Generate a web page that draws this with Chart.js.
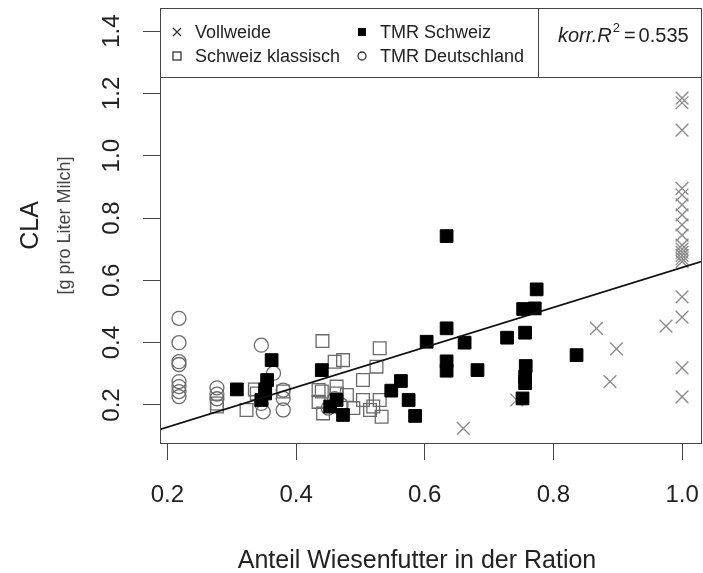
<!DOCTYPE html>
<html>
<head>
<meta charset="utf-8">
<script src="https://cdn.jsdelivr.net/npm/chart.js@4.4.1/dist/chart.umd.min.js"></script>
<style>
  html, body { margin: 0; padding: 0; background: #fff; }
</style>
</head>
<body>
<canvas id="graficaCLA" width="703" height="573"></canvas>
<script>
// Werte
const vollweideX = [1.0, 1.0, 1.0, 1.0, 1.0, 1.0, 1.0, 1.0, 1.0, 1.0, 1.0, 1.0, 1.0, 1.0, 1.0, 1.0, 1.0, 1.0, 1.0, 0.867, 0.898, 0.888, 0.975, 0.743, 0.66];
const vollweideY = [1.185, 1.17, 1.082, 0.895, 0.874, 0.842, 0.81, 0.778, 0.745, 0.713, 0.70, 0.69, 0.68, 0.67, 0.66, 0.547, 0.482, 0.319, 0.226, 0.446, 0.38, 0.275, 0.453, 0.216, 0.125];

const tmrSchweizX = [0.308, 0.346, 0.352, 0.352, 0.355, 0.362, 0.44, 0.453, 0.463, 0.473, 0.548, 0.563, 0.575, 0.585, 0.603, 0.634, 0.634, 0.634, 0.634, 0.662, 0.682, 0.728, 0.752, 0.756, 0.756, 0.757, 0.756, 0.753, 0.771, 0.774, 0.836];
const tmrSchweizY = [0.25, 0.216, 0.237, 0.25, 0.28, 0.344, 0.312, 0.195, 0.216, 0.168, 0.246, 0.277, 0.216, 0.165, 0.403, 0.742, 0.446, 0.34, 0.31, 0.40, 0.312, 0.416, 0.221, 0.27, 0.29, 0.325, 0.432, 0.508, 0.51, 0.571, 0.36];

const klassischX = [0.277, 0.277, 0.323, 0.339, 0.336, 0.38, 0.435, 0.435, 0.442, 0.441, 0.46, 0.473, 0.463, 0.479, 0.44, 0.489, 0.504, 0.504, 0.515, 0.52, 0.525, 0.53, 0.53, 0.533, 0.463];
const klassischY = [0.195, 0.205, 0.184, 0.237, 0.25, 0.243, 0.248, 0.21, 0.173, 0.405, 0.339, 0.344, 0.259, 0.232, 0.243, 0.19, 0.28, 0.216, 0.184, 0.195, 0.323, 0.382, 0.216, 0.162, 0.237];

const tmrDeutschlandX = [0.218, 0.218, 0.218, 0.218, 0.218, 0.218, 0.218, 0.218, 0.277, 0.277, 0.277, 0.346, 0.365, 0.38, 0.38, 0.38, 0.349, 0.346, 0.45, 0.47, 0.46];
const tmrDeutschlandY = [0.478, 0.40, 0.339, 0.33, 0.275, 0.259, 0.243, 0.227, 0.255, 0.235, 0.22, 0.392, 0.302, 0.248, 0.221, 0.184, 0.178, 0.205, 0.19, 0.2, 0.22];

// Regressionsgerade
const achsenabschnitt = 0.001;
const steigung = 0.64;
const korrR2 = '0.535';

const xTicks = [0.2, 0.4, 0.6, 0.8, 1.0];
const yTicks = [0.2, 0.4, 0.6, 0.8, 1.0, 1.2, 1.4];
const xMin = 0.1885, xMax = 1.031;
const yMin = 0.078, yMax = 1.474;

const schrift = 'Liberation Sans, Arial, sans-serif';

function punkte(xs, ys) {
    return xs.map((x, i) => ({ x: x, y: ys[i] }));
}

// Box, Achsentitel, y-Beschriftung, Legende und R2
const rahmenPlugin = {
    id: 'rahmen',
    afterDraw(chart) {
        const ctx = chart.ctx;
        const a = chart.chartArea;
        ctx.save();
        ctx.strokeStyle = '#444';
        ctx.lineWidth = 1;
        ctx.strokeRect(a.left + 0.5, a.top + 0.5, a.right - a.left - 1, a.bottom - a.top);

        // y Tick-Beschriftung (gedreht wie in R)
        const ys = chart.scales.y;
        ctx.fillStyle = '#222';
        ctx.font = '24px ' + schrift;
        ctx.textAlign = 'center';
        ctx.textBaseline = 'middle';
        ys.ticks.forEach(t => {
            ctx.save();
            ctx.translate(112, ys.getPixelForValue(t.value));
            ctx.rotate(-Math.PI / 2);
            ctx.fillText(t.value.toFixed(1), 0, 0);
            ctx.restore();
        });

        // x-Achsentitel
        ctx.font = '25px ' + schrift;
        ctx.fillText('Anteil Wiesenfutter in der Ration', 417, 561);

        // Untertitel y-Achse
        ctx.save();
        ctx.translate(65, (a.top + a.bottom) / 2);
        ctx.rotate(-Math.PI / 2);
        ctx.font = '18px ' + schrift;
        ctx.fillStyle = '#444';
        ctx.fillText('[g pro Liter Milch]', 0, 0);
        ctx.restore();

        // Legende
        ctx.strokeStyle = '#444';
        ctx.strokeRect(a.left + 0.5, a.top + 0.5, 378, 69);
        ctx.strokeRect(538.5, a.top + 0.5, a.right - 539, 69);

        const eintraege = [
            { label: 'Vollweide', x: 177, y: 32, typ: 'kreuz' },
            { label: 'TMR Schweiz', x: 362, y: 32, typ: 'voll' },
            { label: 'Schweiz klassisch', x: 177, y: 56, typ: 'quadrat' },
            { label: 'TMR Deutschland', x: 362, y: 56, typ: 'kreis' }
        ];
        ctx.font = '18px ' + schrift;
        ctx.textAlign = 'left';
        ctx.textBaseline = 'middle';
        eintraege.forEach(e => {
            ctx.lineWidth = 1.3;
            ctx.strokeStyle = '#333';
            ctx.fillStyle = '#000';
            const s = 4;
            if (e.typ === 'kreuz') {
                ctx.beginPath();
                ctx.moveTo(e.x - s, e.y - s); ctx.lineTo(e.x + s, e.y + s);
                ctx.moveTo(e.x - s, e.y + s); ctx.lineTo(e.x + s, e.y - s);
                ctx.stroke();
            } else if (e.typ === 'voll') {
                ctx.fillRect(e.x - s, e.y - s, 2 * s, 2 * s);
            } else if (e.typ === 'quadrat') {
                ctx.strokeRect(e.x - s, e.y - s, 2 * s, 2 * s);
            } else {
                ctx.beginPath();
                ctx.arc(e.x, e.y, s, 0, Math.PI * 2);
                ctx.stroke();
            }
            ctx.fillStyle = '#222';
            ctx.fillText(e.label, e.x + 18, e.y + 1);
        });

        // korr. R2
        ctx.textBaseline = 'alphabetic';
        ctx.fillStyle = '#222';
        let px = 558;
        ctx.font = 'italic 20px ' + schrift;
        ctx.fillText('korr.R', px, 42);
        px += ctx.measureText('korr.R').width + 1;
        ctx.font = '13px ' + schrift;
        ctx.fillText('2', px, 32);
        px += ctx.measureText('2').width + 4;
        ctx.font = '20px ' + schrift;
        ctx.fillText('=', px, 42);
        px += ctx.measureText('=').width + 3;
        ctx.fillText(korrR2, px, 42);
        ctx.restore();
    }
};

const ctxCLA = document.getElementById('graficaCLA').getContext('2d');
new Chart(ctxCLA, {
    type: 'scatter',
    data: {
        datasets: [
            {
                type: 'line',
                label: 'Regression',
                data: [
                    { x: xMin, y: achsenabschnitt + steigung * xMin },
                    { x: xMax, y: achsenabschnitt + steigung * xMax }
                ],
                borderColor: '#111',
                borderWidth: 1.6,
                pointRadius: 0,
                fill: false
            },
            {
                label: 'TMR Schweiz',
                data: punkte(tmrSchweizX, tmrSchweizY),
                pointStyle: 'rect',
                pointRadius: 9,
                backgroundColor: '#000',
                borderColor: '#000',
                borderWidth: 1
            },
            {
                label: 'Vollweide',
                data: punkte(vollweideX, vollweideY),
                pointStyle: 'crossRot',
                pointRadius: 9,
                borderColor: '#8a8a8a',
                borderWidth: 1.3
            },
            {
                label: 'Schweiz klassisch',
                data: punkte(klassischX, klassischY),
                pointStyle: 'rect',
                pointRadius: 9,
                backgroundColor: 'rgba(0,0,0,0)',
                borderColor: '#6a6a6a',
                borderWidth: 1.3
            },
            {
                label: 'TMR Deutschland',
                data: punkte(tmrDeutschlandX, tmrDeutschlandY),
                pointStyle: 'circle',
                pointRadius: 7,
                backgroundColor: 'rgba(0,0,0,0)',
                borderColor: '#6a6a6a',
                borderWidth: 1.3
            }
        ]
    },
    options: {
        responsive: false,
        animation: false,
        devicePixelRatio: 1,
        layout: { autoPadding: false, padding: { top: 8, right: 1, left: 0, bottom: 0 } },
        plugins: {
            legend: { display: false },
            tooltip: { enabled: false }
        },
        scales: {
            x: {
                type: 'linear',
                min: xMin,
                max: xMax,
                afterBuildTicks: (axis) => { axis.ticks = xTicks.map(v => ({ value: v })); },
                afterFit: (axis) => {
                    axis.height = 130;
                    axis.paddingLeft = 0;
                    axis.paddingRight = 0;
                },
                border: { display: false },
                grid: { drawOnChartArea: false, drawTicks: true, tickLength: 17, color: '#444' },
                ticks: {
                    padding: 21,
                    color: '#222',
                    font: { family: schrift, size: 24 },
                    maxRotation: 0,
                    callback: (v) => Number(v).toFixed(1)
                },
                title: { display: false }
            },
            y: {
                type: 'linear',
                min: yMin,
                max: yMax,
                afterBuildTicks: (axis) => { axis.ticks = yTicks.map(v => ({ value: v })); },
                afterFit: (axis) => {
                    axis.width = 160;
                    axis.paddingTop = 0;
                    axis.paddingBottom = 0;
                },
                border: { display: false },
                grid: { drawOnChartArea: false, drawTicks: true, tickLength: 17, color: '#444' },
                ticks: { display: false },
                title: {
                    display: true,
                    text: 'CLA',
                    color: '#222',
                    font: { family: schrift, size: 25, lineHeight: 1 },
                    padding: { top: 19, bottom: 0 }
                }
            }
        }
    },
    plugins: [rahmenPlugin]
});
</script>
</body>
</html>
